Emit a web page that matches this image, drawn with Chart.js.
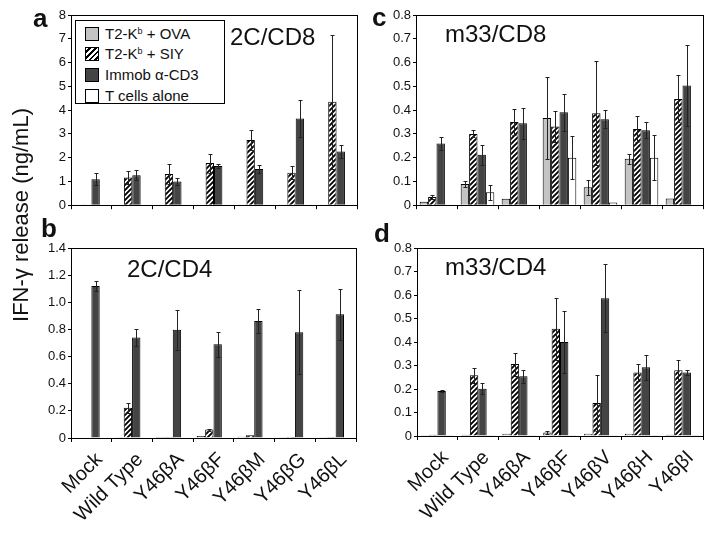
<!DOCTYPE html>
<html>
<head>
<meta charset="utf-8">
<script src="https://cdn.jsdelivr.net/npm/chart.js"></script>
<style>
  body { margin: 0; width: 714px; height: 537px; position: relative; overflow: hidden; background: #fff;
         font-family: "Liberation Sans", Arial, sans-serif; color: #111; }
  canvas { position: absolute; }
  .t { position: absolute; white-space: nowrap; line-height: 1; }
  .letter { font-weight: bold; font-size: 26px; }
  .ttl { font-size: 24px; }
  #legend { position: absolute; left: 75px; top: 20px; width: 148px; height: 82px; border: 1px solid #000; background: #fff; font-size: 15px; }
  #legend div { position: absolute; left: 9px; height: 16px; line-height: 16px; white-space: nowrap; }
  #legend span.sw { display: inline-block; width: 12px; height: 12px; border: 1.5px solid #000; vertical-align: -2px; margin-right: 6px; }
  #legend sup { font-size: 9px; vertical-align: 5px; line-height: 0; }
</style>
</head>
<body>
<canvas id="chartA" width="330" height="215" style="left:30px;top:0px"></canvas>
<canvas id="chartC" width="335" height="215" style="left:375px;top:0px"></canvas>
<canvas id="chartB" width="330" height="312" style="left:30px;top:225px"></canvas>
<canvas id="chartD" width="335" height="312" style="left:375px;top:225px"></canvas>

<div class="t letter" style="left:33px;top:5px">a</div>
<div class="t letter" style="left:41px;top:215px">b</div>
<div class="t letter" style="left:372px;top:4px">c</div>
<div class="t letter" style="left:374px;top:220px">d</div>

<div class="t ttl" style="left:230px;top:25px">2C/CD8</div>
<div class="t ttl" style="left:445px;top:22px">m33/CD8</div>
<div class="t ttl" style="left:127px;top:257px">2C/CD4</div>
<div class="t ttl" style="left:445px;top:255px">m33/CD4</div>

<div class="t" style="left:21px;top:215px;font-size:22px;transform:translate(-50%,-50%) rotate(-90deg)">IFN-γ release (ng/mL)</div>

<div id="legend">
  <div style="top:5px"><span class="sw" style="background:#c4c4c4"></span>T2-K<sup>b</sup> + OVA</div>
  <div style="top:25px"><span class="sw" style="background:repeating-linear-gradient(135deg,#fff 0 2px,#000 2px 4px)"></span>T2-K<sup>b</sup> + SIY</div>
  <div style="top:46px"><span class="sw" style="background:#444"></span>Immob α-CD3</div>
  <div style="top:67px"><span class="sw" style="background:#fff"></span>T cells alone</div>
</div>

<script>
// categories
const labels2C = ['Mock', 'Wild Type', 'Y46βA', 'Y46βF', 'Y46βM', 'Y46βG', 'Y46βL'];
const labelsM33 = ['Mock', 'Wild Type', 'Y46βA', 'Y46βF', 'Y46βV', 'Y46βH', 'Y46βI'];
const seriesNames = ['T2-Kb + OVA', 'T2-Kb + SIY', 'Immob α-CD3', 'T cells alone'];

// a: 2C/CD8
const aOva = [0.03, 0.03, 0.03, 0.03, 0.03, 0.03, 0.03];
const aSiy = [0.03, 1.17, 1.31, 1.77, 2.74, 1.37, 4.35];
const aCd3 = [1.09, 1.26, 1.0, 1.65, 1.52, 3.65, 2.26];
const aAlone = [0.03, 0.03, 0.03, 0.03, 0.03, 0.03, 0.03];
const aSiyErr = [0, 0.26, 0.41, 0.40, 0.42, 0.28, 2.81];
const aCd3Err = [0.25, 0.22, 0.16, 0.08, 0.18, 0.78, 0.27];

// b: 2C/CD4
const bOva = [0.004, 0.005, 0.008, 0.015, 0.01, 0.005, 0.005];
const bSiy = [0.004, 0.223, 0.008, 0.062, 0.02, 0.008, 0.008];
const bCd3 = [1.12, 0.74, 0.797, 0.69, 0.862, 0.78, 0.912];
const bAlone = [0.004, 0.004, 0.004, 0.004, 0.004, 0.004, 0.004];
const bSiyErr = [0, 0.037, 0, 0.008, 0, 0, 0];
const bCd3Err = [0.037, 0.06, 0.145, 0.09, 0.09, 0.308, 0.188];

// c: m33/CD8
const cOva = [0.015, 0.089, 0.027, 0.367, 0.075, 0.195, 0.028];
const cSiy = [0.035, 0.30, 0.35, 0.331, 0.387, 0.32, 0.447];
const cCd3 = [0.26, 0.212, 0.345, 0.391, 0.362, 0.315, 0.503];
const cAlone = [0.003, 0.054, 0.003, 0.2, 0.011, 0.2, 0.003];
const cOvaErr = [0, 0.012, 0, 0.172, 0.03, 0.02, 0];
const cSiyErr = [0.01, 0.015, 0.055, 0.067, 0.219, 0.055, 0.099];
const cCd3Err = [0.026, 0.043, 0.065, 0.077, 0.038, 0.033, 0.171];
const cAloneErr = [0, 0.031, 0, 0.089, 0, 0.095, 0];

// d: m33/CD4
const dOva = [0.003, 0.005, 0.01, 0.015, 0.01, 0.01, 0.005];
const dSiy = [0.005, 0.258, 0.306, 0.456, 0.14, 0.27, 0.28];
const dCd3 = [0.191, 0.201, 0.254, 0.40, 0.586, 0.293, 0.27];
const dAlone = [0.003, 0.003, 0.003, 0.003, 0.003, 0.003, 0.003];
const dOvaErr = [0, 0, 0, 0.006, 0, 0, 0];
const dSiyErr = [0, 0.031, 0.049, 0.133, 0.12, 0.036, 0.044];
const dCd3Err = [0.005, 0.023, 0.028, 0.131, 0.144, 0.053, 0.01];

Chart.defaults.font.family = '"Liberation Sans", Arial, sans-serif';
Chart.defaults.color = '#111';

function hatch() {
    const c = document.createElement('canvas');
    c.width = 5; c.height = 5;
    const x = c.getContext('2d');
    x.fillStyle = '#fff';
    x.fillRect(0, 0, 5, 5);
    x.strokeStyle = '#000';
    x.lineWidth = 1.9;
    x.beginPath();
    x.moveTo(-1, 6); x.lineTo(6, -1);
    x.moveTo(-3.5, 3.5); x.lineTo(3.5, -3.5);
    x.moveTo(1.5, 8.5); x.lineTo(8.5, 1.5);
    x.stroke();
    return x.createPattern(c, 'repeat');
}

const frame = {
    id: 'frame',
    afterDraw(chart) {
        const a = chart.chartArea, ctx = chart.ctx;
        ctx.save();
        ctx.strokeStyle = '#000';
        ctx.lineWidth = 1;
        ctx.strokeRect(Math.round(a.left) + 0.5, Math.round(a.top) + 0.5, Math.round(a.right - a.left), Math.round(a.bottom - a.top));
        ctx.restore();
    }
};

const errorBars = {
    id: 'errorBars',
    afterDatasetsDraw(chart) {
        const ctx = chart.ctx, y = chart.scales.y;
        ctx.save();
        ctx.strokeStyle = '#222';
        ctx.lineWidth = 1;
        chart.data.datasets.forEach((ds, i) => {
            if (!ds.errors) return;
            chart.getDatasetMeta(i).data.forEach((bar, j) => {
                const e = ds.errors[j];
                if (!e) return;
                const v = ds.data[j];
                const x = Math.round(bar.x) + 0.5;
                const top = Math.round(y.getPixelForValue(v + e)) + 0.5;
                const bot = Math.round(y.getPixelForValue(Math.max(0, v - e))) + 0.5;
                ctx.beginPath();
                ctx.moveTo(x, top); ctx.lineTo(x, bot);
                ctx.moveTo(x - 2, top); ctx.lineTo(x + 2, top);
                ctx.moveTo(x - 2, bot); ctx.lineTo(x + 2, bot);
                ctx.stroke();
            });
        });
        ctx.restore();
    }
};

function panel(id, labels, series, opt) {
    const fills = ['#c4c4c4', hatch(), '#444444', '#ffffff'];
    new Chart(document.getElementById(id), {
        type: 'bar',
        data: {
            labels: labels,
            datasets: series.map((s, i) => ({
                label: seriesNames[i],
                data: s[0],
                errors: s[1],
                backgroundColor: fills[i],
                borderColor: '#000',
                borderWidth: 1,
                categoryPercentage: 0.82,
                barPercentage: 1
            }))
        },
        options: {
            responsive: false,
            animation: false,
            layout: { padding: { top: opt.top, right: opt.right, left: 0, bottom: 0 } },
            plugins: { legend: { display: false }, tooltip: { enabled: false } },
            scales: {
                x: {
                    grid: { drawOnChartArea: false, tickLength: 4, color: '#000' },
                    border: { color: '#000' },
                    ticks: { display: opt.showLabels, minRotation: 45, maxRotation: 45, autoSkip: false,
                             font: { size: 20 }, color: '#111', padding: 6, labelOffset: 8 },
                    afterFit: s => { s.height = opt.xh; s.paddingLeft = 0; s.paddingRight = 0; }
                },
                y: {
                    min: 0, max: opt.max,
                    grid: { drawOnChartArea: false, tickLength: 3, color: '#000' },
                    border: { color: '#000' },
                    ticks: { stepSize: opt.step, font: { size: 13 }, color: '#111', padding: 2,
                             callback: v => opt.step >= 1 ? String(v) : (v === 0 ? '0' : v.toFixed(1)) },
                    afterFit: s => { s.width = opt.yw; }
                }
            }
        },
        plugins: [frame, errorBars]
    });
}

panel('chartA', labels2C,
    [[aOva, null], [aSiy, aSiyErr], [aCd3, aCd3Err], [aAlone, null]],
    { top: 15, right: 3, xh: 8, yw: 41, max: 8, step: 1, showLabels: false });
panel('chartC', labelsM33,
    [[cOva, cOvaErr], [cSiy, cSiyErr], [cCd3, cCd3Err], [cAlone, cAloneErr]],
    { top: 15, right: 7, xh: 9, yw: 41, max: 0.8, step: 0.1, showLabels: false });
panel('chartB', labels2C,
    [[bOva, null], [bSiy, bSiyErr], [bCd3, bCd3Err], [bAlone, null]],
    { top: 23, right: 4, xh: 99, yw: 41, max: 1.4, step: 0.2, showLabels: true });
panel('chartD', labelsM33,
    [[dOva, dOvaErr], [dSiy, dSiyErr], [dCd3, dCd3Err], [dAlone, null]],
    { top: 23, right: 7, xh: 101, yw: 42, max: 0.8, step: 0.1, showLabels: true });
</script>
</body>
</html>
